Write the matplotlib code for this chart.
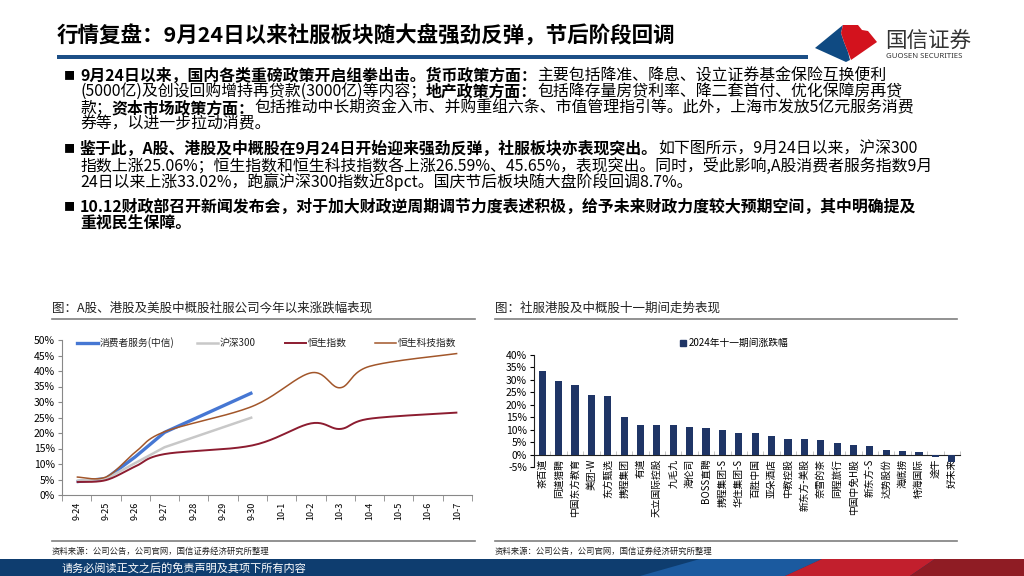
import numpy as np
import matplotlib
matplotlib.use("Agg")
import matplotlib.pyplot as plt
from matplotlib.patches import Polygon, Rectangle, Patch

plt.rcParams['font.family'] = ['Noto Sans CJK SC', 'DejaVu Sans']
plt.rcParams['axes.unicode_minus'] = False

W, H = 1024, 576

# ── data: left chart (cumulative change since 9-23, %) ──
dates = ['9-24', '9-25', '9-26', '9-27', '9-28', '9-29', '9-30',
         '10-1', '10-2', '10-3', '10-4', '10-5', '10-6', '10-7']
nan = np.nan
consumer = [4.3, 5.3, 12.3, 20.2, nan, nan, 33.02, nan, nan, nan, nan, nan, nan, nan]
hs300 = [4.6, 5.2, 10.3, 15.4, nan, nan, 25.06, nan, nan, nan, nan, nan, nan, nan]
hsi = [4.2, 4.8, 9.2, 13.2, nan, nan, 16.0, nan, 23.1, 21.3, 24.6, nan, nan, 26.59]
hstech = [5.8, 5.8, 13.8, 20.4, nan, nan, 28.6, nan, 39.4, 34.6, 41.5, nan, nan, 45.65]
line_names = ['消费者服务(中信)', '沪深300', '恒生指数', '恒生科技指数']

# ── data: right chart (golden week change, %) ──
stocks = ['茶百道', '同道猎聘', '中国东方教育', '美团-W', '东方甄选', '携程集团', '有道',
          '天立国际控股', '九毛九', '海伦司', 'BOSS直聘', '携程集团-S', '华住集团-S',
          '百胜中国', '亚朵酒店', '中教控股', '新东方-美股', '奈雪的茶', '同程旅行',
          '中国中免H股', '新东方-S', '达势股份', '海底捞', '特海国际', '途牛', '好未来']
changes = [33.6, 29.5, 27.8, 24.0, 23.5, 15.0, 11.9, 11.9, 11.7, 11.0, 10.6, 9.8, 8.6,
           8.6, 7.4, 6.4, 6.2, 5.8, 4.6, 3.8, 3.6, 2.0, 1.3, 0.9, -0.9, -3.0]

fig = plt.figure(figsize=(W / 100, H / 100), dpi=100)
fig.patch.set_facecolor('white')
renderer = fig.canvas.get_renderer()


def fx(x):
    return x / W


def fy(y):
    return 1 - y / H


def rich_line(x, y, parts, size):
    for txt, bold in parts:
        t = fig.text(fx(x), fy(y), txt, fontsize=size, va='center', ha='left',
                     fontweight='bold' if bold else 'normal', color='black')
        x += t.get_window_extent(renderer).width


# ── header ──
fig.text(fx(57), fy(35), '行情复盘：9月24日以来社服板块随大盘强劲反弹，节后阶段回调',
         fontsize=15.5, fontweight='bold', va='center', ha='left', color='black')
fig.add_artist(Rectangle((fx(57), fy(59)), fx(808) - fx(57), 4 / H,
                         transform=fig.transFigure, color='#1c4f86', lw=0))

# logo
blue_shape = [(815, 48), (843, 25), (841, 33), (844, 42), (848, 52), (850, 60), (846, 62)]
red_shape = [(843, 25), (858, 25), (862, 30), (868, 31), (877, 42), (851, 60),
             (848, 52), (844, 42), (841, 33)]
fig.add_artist(Polygon([(fx(a), fy(b)) for a, b in blue_shape], closed=True,
                       transform=fig.transFigure, color='#0f4a82', lw=0))
fig.add_artist(Polygon([(fx(a), fy(b)) for a, b in red_shape], closed=True,
                       transform=fig.transFigure, color='#d3121d', lw=0))
fig.text(fx(885), fy(41), '国信证券', fontsize=15.5, color='#333333', va='center',
         ha='left', fontweight='medium')
fig.text(fx(886), fy(57), 'GUOSEN SECURITIES', fontsize=5.6, color='#333333',
         va='center', ha='left', fontweight='bold', family=['Noto Sans', 'DejaVu Sans'])

# ── bullet text ──
FS = 11.45
bullets = [76, 149, 207]
for by in bullets:
    fig.text(fx(64), fy(by), '■', fontsize=8, va='center', ha='left', color='black')

lines = [
    (76, [('9月24日以来，国内各类重磅政策开启组拳出击。货币政策方面：', True),
          ('主要包括降准、降息、设立证券基金保险互换便利', False)]),
    (92, [('(5000亿)及创设回购增持再贷款(3000亿)等内容；', False), ('地产政策方面：', True),
          ('包括降存量房贷利率、降二套首付、优化保障房再贷', False)]),
    (108, [('款；', False), ('资本市场政策方面：', True),
           ('包括推动中长期资金入市、并购重组六条、市值管理指引等。此外，上海市发放5亿元服务消费', False)]),
    (124, [('券等，以进一步拉动消费。', False)]),
    (149, [('鉴于此，A股、港股及中概股在9月24日开始迎来强劲反弹，社服板块亦表现突出。', True),
           ('如下图所示，9月24日以来，沪深300', False)]),
    (166, [('指数上涨25.06%；恒生指数和恒生科技指数各上涨26.59%、45.65%，表现突出。同时，受此影响,A股消费者服务指数9月', False)]),
    (182, [('24日以来上涨33.02%，跑赢沪深300指数近8pct。国庆节后板块随大盘阶段回调8.7%。', False)]),
    (207, [('10.12财政部召开新闻发布会，对于加大财政逆周期调节力度表述积极，给予未来财政力度较大预期空间，其中明确提及', True)]),
    (223, [('重视民生保障。', True)]),
]
for ly, parts in lines:
    rich_line(80, ly, parts, FS)

# ── chart titles, separators, sources ──
fig.text(fx(52), fy(308), '图：A股、港股及美股中概股社服公司今年以来涨跌幅表现', fontsize=9,
         va='center', ha='left', color='#222222')
fig.text(fx(495), fy(308), '图：社服港股及中概股十一期间走势表现', fontsize=9,
         va='center', ha='left', color='#222222')
for x0, x1 in [(52, 475), (495, 957)]:
    for yy in (319, 541):
        fig.add_artist(plt.Line2D([fx(x0), fx(x1)], [fy(yy), fy(yy)],
                                  transform=fig.transFigure, color='#7f7f7f', lw=1.2))
fig.text(fx(52), fy(551), '资料来源：公司公告，公司官网，国信证券经济研究所整理', fontsize=6,
         va='center', ha='left', color='#222222')
fig.text(fx(495), fy(551), '资料来源：公司公告，公司官网，国信证券经济研究所整理', fontsize=6,
         va='center', ha='left', color='#222222')

# ── footer bar ──
footer = [
    ([(0, 559), (1024, 559), (1024, 576), (0, 576)], '#0e3d6f'),
    ([(640, 576), (700, 559), (822, 559), (785, 576)], '#1b5a9f'),
    ([(785, 576), (822, 559), (935, 559), (910, 576)], '#c21f2d'),
    ([(910, 576), (935, 559), (1024, 559), (1024, 576)], '#8f1c24'),
]
for pts, col in footer:
    fig.add_artist(Polygon([(fx(a), fy(b)) for a, b in pts], closed=True,
                           transform=fig.transFigure, color=col, lw=0))
fig.text(fx(62), fy(568), '请务必阅读正文之后的免责声明及其项下所有内容', fontsize=8,
         color='white', va='center', ha='left')


# ── left chart ──
def smooth(xs, ys, n=24):
    pts = np.column_stack([xs, ys])
    out = [pts[0]]
    t = np.linspace(0, 1, n)[1:, None]
    for i in range(len(pts) - 1):
        p0 = pts[i - 1] if i > 0 else pts[i]
        p1, p2 = pts[i], pts[i + 1]
        p3 = pts[i + 2] if i + 2 < len(pts) else pts[i + 1]
        c1 = p1 + (p2 - p0) / 6
        c2 = p2 - (p3 - p1) / 6
        seg = (1 - t) ** 3 * p1 + 3 * (1 - t) ** 2 * t * c1 + 3 * (1 - t) * t ** 2 * c2 + t ** 3 * p2
        out.extend(seg)
    out = np.array(out)
    return out[:, 0], out[:, 1]


ax1 = fig.add_axes([fx(62), fy(495), (472 - 62) / W, (495 - 340) / H])
xi = np.arange(len(dates))
series = [consumer, hs300, hsi, hstech]
colors = ['#4677d3', '#c8c8c8', '#8c1c30', '#a2562a']
widths = [2.4, 1.8, 1.4, 1.1]
smoothed = [False, False, True, True]
for vals, col, lw, sm in zip(series, colors, widths, smoothed):
    v = np.array(vals, dtype=float)
    m = ~np.isnan(v)
    if sm:
        sx, sy = smooth(xi[m], v[m])
        ax1.plot(sx, sy, color=col, lw=lw, solid_capstyle='butt')
    else:
        ax1.plot(xi[m], v[m], color=col, lw=lw, solid_capstyle='butt')

ax1.set_xlim(-0.5, len(dates) - 0.5)
ax1.set_ylim(0, 50)
ax1.set_yticks(np.arange(0, 51, 5))
ax1.set_yticklabels([f'{v}%' for v in range(0, 51, 5)], fontsize=7.5)
ax1.set_xticks(xi)
ax1.set_xticklabels(dates, rotation=90, fontsize=6.5)
ax1.set_xticks(np.arange(-0.5, len(dates), 1), minor=True)
ax1.tick_params(axis='x', which='major', length=0, pad=5)
ax1.tick_params(axis='x', which='minor', length=4, color='#888888', direction='out')
ax1.tick_params(axis='y', length=3, color='#888888', pad=2)
for s in ['top', 'right']:
    ax1.spines[s].set_visible(False)
for s in ['left', 'bottom']:
    ax1.spines[s].set_color('#888888')
    ax1.spines[s].set_linewidth(0.8)

leg_x = [15, 135, 223, 313]
for k, (name, col, lw) in enumerate(zip(line_names, colors, widths)):
    x0 = leg_x[k] / 410
    ax1.plot([x0, x0 + 21 / 410], [0.981, 0.981], transform=ax1.transAxes,
             color=col, lw=lw, clip_on=False)
    ax1.text(x0 + 23 / 410, 0.981, name, transform=ax1.transAxes, fontsize=7,
             va='center', ha='left', color='#222222')

# ── right chart ──
ax2 = fig.add_axes([fx(534), fy(467), (960 - 534) / W, (467 - 355) / H])
bi = np.arange(len(stocks))
ax2.bar(bi, changes, width=0.44, color='#1f3566', label='2024年十一期间涨跌幅', zorder=3)
ax2.set_xlim(-0.5, len(stocks) - 0.5)
ax2.set_ylim(-5, 40)
ax2.set_yticks(np.arange(-5, 41, 5))
ax2.set_yticklabels([f'{v}%' for v in range(-5, 41, 5)], fontsize=7.5)
ax2.spines['bottom'].set_position(('data', 0))
for s in ['top', 'right']:
    ax2.spines[s].set_visible(False)
ax2.spines['left'].set_color('#222222')
ax2.spines['bottom'].set_color('#222222')
ax2.set_xticks(bi)
ax2.set_xticklabels(stocks, rotation=90, fontsize=7, va='top')
ax2.set_xticks(np.arange(-0.5, len(stocks), 1), minor=True)
ax2.tick_params(axis='x', which='major', length=0, pad=3)
ax2.tick_params(axis='x', which='minor', length=3, direction='in', color='#bbbbbb')
ax2.tick_params(axis='y', length=3, pad=2)
ax2.legend(handles=[Patch(color='#1f3566')], labels=['2024年十一期间涨跌幅'],
           loc='center', bbox_to_anchor=(0.47, 1.107), frameon=False, fontsize=7,
           handlelength=0.6, handleheight=0.6, handletextpad=0.3)

fig.savefig('out.png', dpi=100)
